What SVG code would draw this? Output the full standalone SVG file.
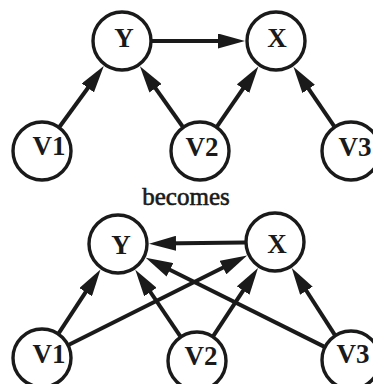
<svg xmlns="http://www.w3.org/2000/svg" width="373" height="384" viewBox="0 0 373 384">
<style>
.node circle{fill:none;stroke:#1a1a1a;stroke-width:3.4}
.node text,.lbl{font-family:"Liberation Serif","Times New Roman",serif;fill:#1a1a1a}
.node text{font-size:27px;text-anchor:middle;font-weight:bold}
.lbl{font-size:25px;text-anchor:middle;stroke:#1a1a1a;stroke-width:0.6}
.edges line{stroke:#1a1a1a;stroke-width:4;marker-end:url(#ah)}
</style>
<defs>
<marker id="ah" markerUnits="userSpaceOnUse" markerWidth="28" markerHeight="15" refX="17" refY="7.5" orient="auto" viewBox="0 0 28 15">
<path d="M0,0 L27,7.5 L0,15 z" fill="#1a1a1a"/>
</marker>
</defs>
<rect width="373" height="384" fill="#fff"/>
<g class="edges" id="connectors">
<line x1="152" y1="41" x2="235" y2="41"/>
<line x1="59.6" y1="126.7" x2="97.9" y2="74.2"/>
<line x1="182.6" y1="126.5" x2="145.7" y2="74.4"/>
<line x1="217.1" y1="126.3" x2="252.7" y2="74.7"/>
<line x1="334.1" y1="126.2" x2="299.1" y2="74.9"/>
<line x1="245" y1="242.4" x2="159" y2="243.5"/>
<line x1="58.8" y1="333.2" x2="95" y2="277.9"/>
<line x1="68.9" y1="344.8" x2="238.2" y2="260"/>
<line x1="180.2" y1="336.1" x2="140.9" y2="278"/>
<line x1="213.4" y1="335.9" x2="252.5" y2="276.3"/>
<line x1="324.1" y1="346.6" x2="154.7" y2="262.3"/>
<line x1="334.8" y1="334.8" x2="297.2" y2="276.5"/>
</g>
<g class="node" id="top-Y"><circle cx="122" cy="41" r="29"/><text x="124" y="47">Y</text></g>
<g class="node" id="top-X"><circle cx="276" cy="41" r="29"/><text x="277" y="47">X</text></g>
<g class="node" id="top-V1"><circle cx="42" cy="151" r="29"/><text x="49" y="155">V1</text></g>
<g class="node" id="top-V2"><circle cx="200" cy="151" r="29"/><text x="202" y="156">V2</text></g>
<g class="node" id="top-V3"><circle cx="351" cy="151" r="29"/><text x="355" y="156">V3</text></g>
<text class="lbl" x="186" y="205">becomes</text>
<g class="node" id="bot-Y"><circle cx="118" cy="244" r="29"/><text x="121" y="254">Y</text></g>
<g class="node" id="bot-X"><circle cx="275" cy="242" r="29"/><text x="277" y="253">X</text></g>
<g class="node" id="bot-V1"><circle cx="42" cy="358" r="29"/><text x="49" y="363">V1</text></g>
<g class="node" id="bot-V2"><circle cx="197" cy="361" r="29"/><text x="201" y="365">V2</text></g>
<g class="node" id="bot-V3"><circle cx="351" cy="360" r="29"/><text x="353" y="363">V3</text></g>
</svg>
